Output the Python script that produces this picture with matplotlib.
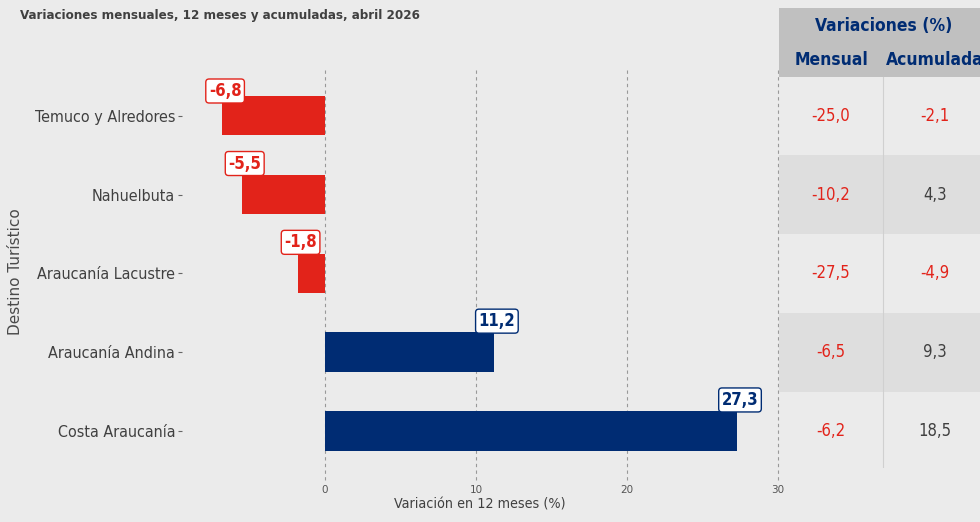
import matplotlib
matplotlib.use("Agg")
import matplotlib.pyplot as plt
from matplotlib.patches import Rectangle

destinos = ["Costa Araucanía", "Araucanía Andina", "Araucanía Lacustre", "Nahuelbuta", "Temuco y Alredores"]
var_12m = [27.3, 11.2, -1.8, -5.5, -6.8]
var_mensual = [-6.2, -6.5, -27.5, -10.2, -25.0]
var_acum = [18.5, 9.3, -4.9, 4.3, -2.1]
xticks = [0, 10, 20, 30]

RED = "#e2231a"
BLUE = "#002c73"
DARK = "#404040"
BG = "#ebebeb"

def fmt(v):
    return f"{v:.1f}".replace(".", ",")

fig = plt.figure(figsize=(9.8, 5.22), dpi=100, facecolor=BG)
W, H = 980, 522

def ax_rect(x0, y0, x1, y1):
    return [x0 / W, 1 - y1 / H, (x1 - x0) / W, (y1 - y0) / H]

AX_TOP, AX_BOT = 70, 468
ax = fig.add_axes(ax_rect(182, AX_TOP, 778, AX_BOT))
ax.set_facecolor(BG)
for s in ax.spines.values():
    s.set_visible(False)

ypos = list(range(len(destinos)))
colors = [BLUE if v >= 0 else RED for v in var_12m]
ax.barh(ypos, var_12m, height=0.5, color=colors, zorder=3)
ax.set_xlim(-9.47, 30)
ax.set_ylim(-0.47, 4.58)
ax.set_xticks(xticks)
ax.set_xticklabels([str(t) for t in xticks], fontsize=7.5, color="#555555")
ax.set_yticks(ypos)
ax.set_yticklabels(destinos, fontsize=11.5, color=DARK, fontstretch="condensed")
ax.tick_params(axis="x", length=0, pad=12)
ax.tick_params(axis="y", length=3, color="#666666", pad=2)
for t in xticks:
    ax.axvline(t, ymin=-0.03, ymax=1, color="#999999", linestyle=(0, (3, 3)),
               linewidth=0.8, zorder=1, clip_on=False)

ax.set_xlabel("Variación en 12 meses (%)", fontsize=10.3, color=DARK, fontstretch="condensed", labelpad=2)
fig.text(16 / W, 1 - 272 / H, "Destino Turístico", rotation=90, fontsize=11, color="#4a4a4a",
         ha="center", va="center")

# label placement: box sits just above the bar, kept inside the panel
ylo, yhi = ax.get_ylim()
px_per_unit = (AX_BOT - AX_TOP) / (yhi - ylo)
for y, v, c in zip(ypos, var_12m, colors):
    ycen_px = AX_TOP + (yhi - y) * px_per_unit
    lab_px = max(ycen_px - 31, AX_TOP + 21)
    dy_pt = (ycen_px - lab_px) * 0.72
    ax.annotate(fmt(v), xy=(v, y), xytext=(2, dy_pt), textcoords="offset points",
                ha="center", va="center", fontsize=12, fontweight="bold", color=c,
                fontstretch="condensed", zorder=5,
                bbox=dict(boxstyle="round,pad=0.18,rounding_size=0.2", fc="white", ec=c, lw=1, alpha=1))

fig.text(20 / W, 1 - 16 / H, "Variaciones mensuales, 12 meses y acumuladas, abril 2026",
         fontsize=9.5, fontweight="bold", color=DARK, fontstretch="condensed", va="center")

# Table axes
tx0, tx1 = 779, 988
tax = fig.add_axes(ax_rect(tx0, 8, tx1, 468))
tax.set_xlim(tx0, tx1)
tax.set_ylim(468, 8)
tax.axis("off")
tax.add_patch(Rectangle((tx0, 8), tx1 - tx0, 69, fc="#c0c0c0", ec="none"))
tax.text((tx0 + tx1) / 2, 26, "Variaciones (%)", ha="center", va="center", fontsize=12.5,
         fontweight="bold", color=BLUE, fontstretch="condensed")
tax.text(831, 60, "Mensual", ha="center", va="center", fontsize=12.5, fontweight="bold",
         color=BLUE, fontstretch="condensed")
tax.text(935, 60, "Acumulada", ha="center", va="center", fontsize=12.5, fontweight="bold",
         color=BLUE, fontstretch="condensed")

def ypix(y):
    return AX_TOP + (yhi - y) * px_per_unit

for i, (m, a) in enumerate(zip(var_mensual, var_acum)):
    yc = ypix(i)
    if i % 2 == 1:
        tax.add_patch(Rectangle((tx0, yc - px_per_unit / 2), tx1 - tx0, px_per_unit, fc="#dedede", ec="none"))
    tax.text(831, yc, fmt(m), ha="center", va="center", fontsize=12,
             color=RED if m < 0 else DARK, fontstretch="condensed")
    tax.text(935, yc, fmt(a), ha="center", va="center", fontsize=12,
             color=RED if a < 0 else DARK, fontstretch="condensed")
tax.plot([883, 883], [77, 468], color="#d0d0d0", lw=0.8)

fig.savefig("out.png", dpi=100, facecolor=BG)
